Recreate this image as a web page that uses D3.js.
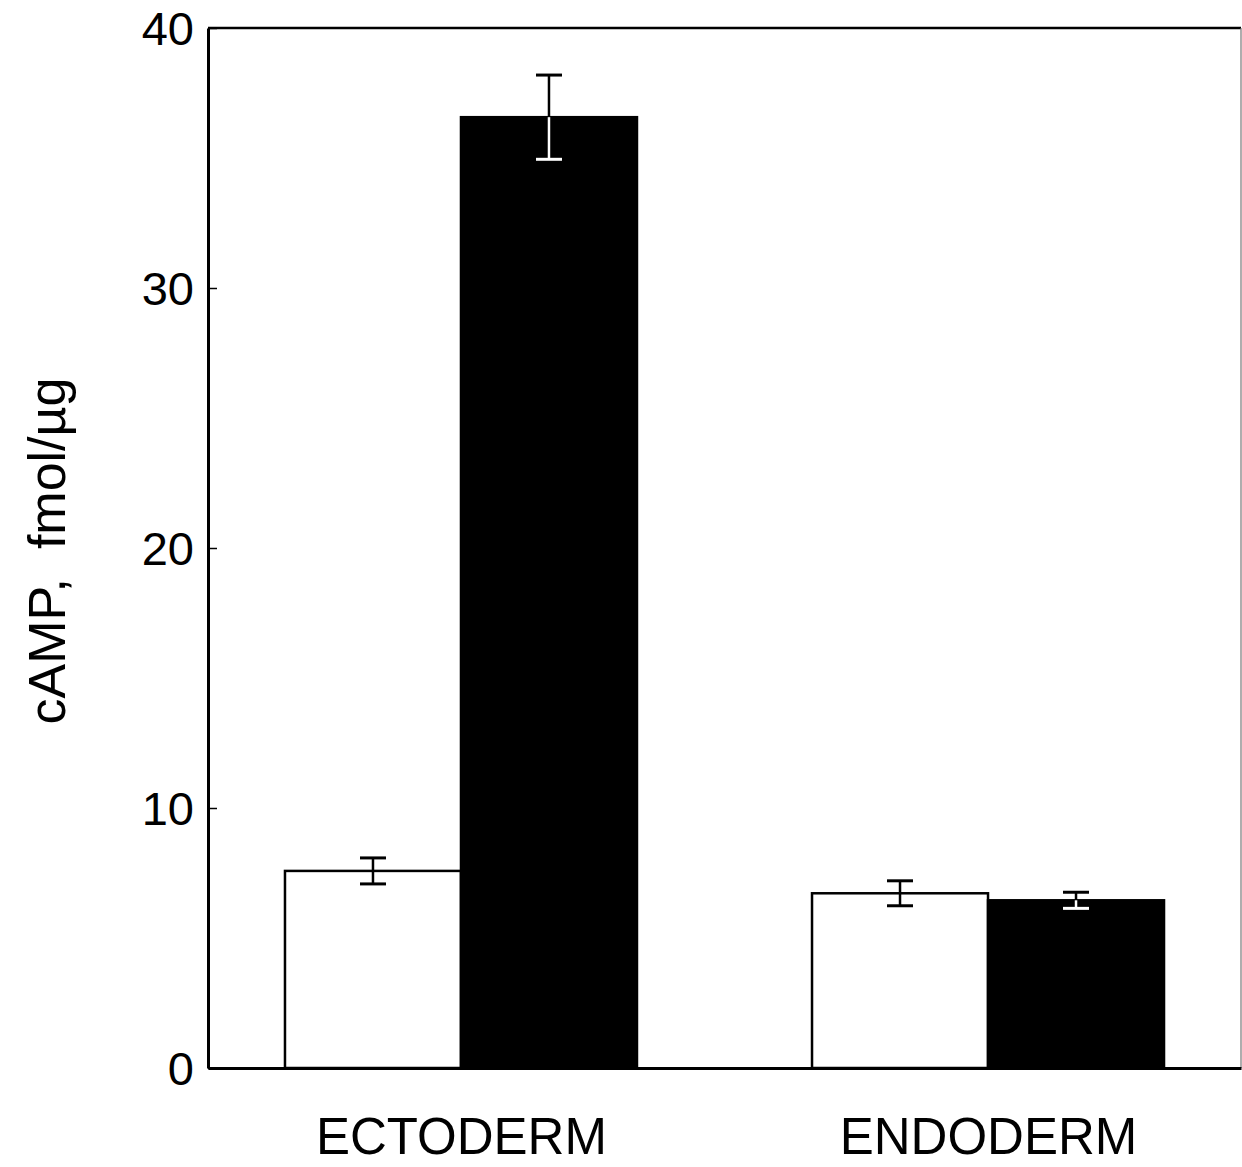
<!DOCTYPE html>
<html>
<head>
<meta charset="utf-8">
<script src="https://cdn.jsdelivr.net/npm/d3@7"></script>
<style>
  html, body { margin: 0; padding: 0; background: #fff; }
  svg { display: block; }
  text { font-family: "Liberation Sans", Arial, Helvetica, sans-serif; fill: #000; }
</style>
</head>
<body>
<svg id="chart" width="1242" height="1167"></svg>
<script>
// Tissue groups and treatment conditions
const tissues = ["ECTODERM", "ENDODERM"];
const conditions = ["control", "treated"];
// cAMP content (fmol/µg), mean and error per tissue, in condition order
const controlValues = [7.58, 6.72];
const treatedValues = [36.57, 6.45];
const controlErrors = [0.5, 0.48];
const treatedErrors = [1.62, 0.31];
const yTicks = [0, 10, 20, 30, 40];
const conditionFill = ["#ffffff", "#000000"];

const rows = tissues.map((t, i) => ({
  tissue: t,
  bars: [
    { cond: conditions[0], value: controlValues[i], err: controlErrors[i] },
    { cond: conditions[1], value: treatedValues[i], err: treatedErrors[i] }
  ]
}));

const svg = d3.select("#chart");
const plotLeft = 208, plotRight = 1241, plotTop = 28, plotBottom = 1068;

const y = d3.scaleLinear().domain([0, 40]).range([plotBottom, plotTop]);
const x = d3.scalePoint().domain(tissues).range([plotLeft, plotRight]).padding(0.48);
const barW = 176;
const xc = d3.scaleBand().domain(conditions).range([-barW, barW]).padding(0);

// Bars
const groups = svg.selectAll("g.tissue").data(rows).join("g")
  .attr("class", "tissue")
  .attr("transform", d => `translate(${x(d.tissue)},0)`);

groups.selectAll("rect").data(d => d.bars).join("rect")
  .attr("x", d => xc(d.cond))
  .attr("y", d => y(d.value))
  .attr("width", xc.bandwidth())
  .attr("height", d => y(0) - y(d.value))
  .attr("fill", (d, i) => conditionFill[i])
  .attr("stroke", "#000")
  .attr("stroke-width", 2.5);

// Error bars (white on the dark bars where they overlap)
const capHalf = 13;
groups.selectAll("g.err").data(d => d.bars).join("g")
  .attr("class", "err")
  .each(function (d, i) {
    const g = d3.select(this);
    const cx = xc(d.cond) + xc.bandwidth() / 2;
    const hi = y(d.value + d.err), mid = y(d.value), lo = y(d.value - d.err);
    const inkAbove = "#000";
    const inkBelow = i === 1 ? "#fff" : "#000";
    g.append("line").attr("x1", cx).attr("x2", cx).attr("y1", hi).attr("y2", mid)
      .attr("stroke", inkAbove).attr("stroke-width", 2.5);
    g.append("line").attr("x1", cx - capHalf).attr("x2", cx + capHalf).attr("y1", hi).attr("y2", hi)
      .attr("stroke", inkAbove).attr("stroke-width", 3);
    g.append("line").attr("x1", cx).attr("x2", cx).attr("y1", mid).attr("y2", lo)
      .attr("stroke", inkBelow).attr("stroke-width", 2.5);
    g.append("line").attr("x1", cx - capHalf).attr("x2", cx + capHalf).attr("y1", lo).attr("y2", lo)
      .attr("stroke", inkBelow).attr("stroke-width", 3);
  });

// Frame
svg.append("line").attr("x1", plotLeft).attr("x2", plotRight).attr("y1", plotTop).attr("y2", plotTop)
  .attr("stroke", "#000").attr("stroke-width", 2.5);
svg.append("line").attr("x1", plotRight).attr("x2", plotRight).attr("y1", plotTop).attr("y2", plotBottom)
  .attr("stroke", "#777").attr("stroke-width", 1.2);

// Y axis with short inward ticks
const yAxis = d3.axisLeft(y).tickValues(yTicks).tickSizeInner(-9).tickSizeOuter(0)
  .tickPadding(14).tickFormat(d3.format("d"));
const ya = svg.append("g").attr("transform", `translate(${plotLeft},0)`).call(yAxis);
ya.select(".domain").attr("stroke", "#000").attr("stroke-width", 3);
ya.selectAll(".tick line").attr("stroke", "#000").attr("stroke-width", 1.5);
ya.selectAll("text").attr("font-size", 47).attr("font-family", "Liberation Sans, Arial, sans-serif").attr("dy", "0.36em");

// X axis
const xAxis = d3.axisBottom(x).tickSize(0).tickPadding(50);
const xa = svg.append("g").attr("transform", `translate(0,${plotBottom})`).call(xAxis);
xa.select(".domain").attr("stroke", "#000").attr("stroke-width", 3);
xa.selectAll("text").attr("font-size", 51).attr("font-family", "Liberation Sans, Arial, sans-serif");

// Y title
svg.append("text")
  .attr("transform", `translate(65,${y(20) + 3}) rotate(-90)`)
  .attr("text-anchor", "middle")
  .attr("font-size", 52)
  .style("white-space", "pre")
  .text("cAMP,  fmol/µg");
</script>
</body>
</html>
